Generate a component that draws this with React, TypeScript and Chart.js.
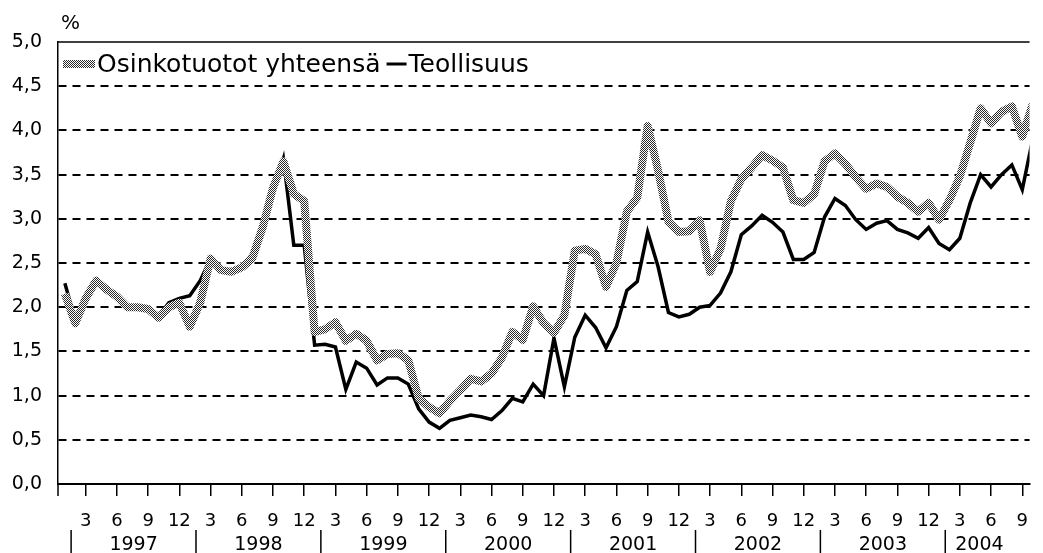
import React, { useEffect, useRef } from "react";
import { Chart, registerables } from "chart.js";

Chart.register(...registerables);

// Months Jan 1997 .. Oct 2004 (index 0 = Jan 1997)
const years = ["1997", "1998", "1999", "2000", "2001", "2002", "2003", "2004"];
const tickMonths = [3, 6, 9, 12];
const seriesNames = ["Osinkotuotot yhteensä", "Teollisuus"];
const unitLabel = "%";

const osinkotuototYhteensa = [
  2.15, 1.82, 2.1, 2.3, 2.2, 2.12, 2.0, 2.0, 1.98, 1.88, 2.0, 2.05,
  1.78, 2.05, 2.55, 2.42, 2.4, 2.45, 2.55, 2.9, 3.35, 3.65, 3.28, 3.2,
  1.72, 1.75, 1.83, 1.62, 1.7, 1.62, 1.4, 1.47, 1.48, 1.4, 0.97, 0.87,
  0.8, 0.94, 1.06, 1.19, 1.16, 1.25, 1.43, 1.72, 1.63, 2.01, 1.82, 1.71,
  1.91, 2.64, 2.66, 2.6, 2.23, 2.5, 3.08, 3.24, 4.05, 3.55, 2.97, 2.85,
  2.86, 2.98, 2.4, 2.66, 3.2, 3.45, 3.58, 3.72, 3.66, 3.58, 3.21, 3.18,
  3.28, 3.65, 3.74, 3.62, 3.47, 3.34, 3.4, 3.36, 3.25, 3.18, 3.08, 3.18,
  2.99, 3.21, 3.48, 3.86, 4.25, 4.08, 4.21, 4.27, 3.93, 4.3,
];

const teollisuus = [
  2.27, 1.85, 2.08, 2.28, 2.18, 2.1, 2.0, 1.98, 1.98, 1.9, 2.05, 2.1,
  2.13, 2.3, 2.55, 2.42, 2.4, 2.45, 2.6, 2.9, 3.3, 3.68, 2.7, 2.7,
  1.57, 1.58, 1.55, 1.07, 1.38, 1.31, 1.12, 1.2, 1.2, 1.13, 0.85, 0.7,
  0.63, 0.72, 0.75, 0.78, 0.76, 0.73, 0.83, 0.97, 0.93, 1.13, 1.0, 1.65,
  1.1, 1.66, 1.91, 1.77, 1.54, 1.78, 2.19, 2.29, 2.85, 2.46, 1.94, 1.89,
  1.92, 2.0, 2.02, 2.16, 2.4, 2.82, 2.92, 3.04, 2.96, 2.85, 2.54, 2.54,
  2.62, 3.02, 3.23, 3.15, 2.99, 2.88, 2.95, 2.98, 2.88, 2.84, 2.78, 2.9,
  2.72, 2.65, 2.78, 3.18, 3.5, 3.36, 3.5, 3.61, 3.33, 3.9,
];

const FONT = "'DejaVu Sans', sans-serif";
const X_MIN = -0.66;
const X_MAX = 92.7;

export default function App() {
  const ref = useRef<HTMLCanvasElement>(null);

  useEffect(() => {
    const canvas = ref.current;
    if (!canvas) return;
    const ctx0 = canvas.getContext("2d")!;

    // stipple pattern for the grey series
    const pc = document.createElement("canvas");
    pc.width = 2;
    pc.height = 2;
    const p = pc.getContext("2d")!;
    p.fillStyle = "#ffffff";
    p.fillRect(0, 0, 2, 2);
    p.fillStyle = "#2a2a2a";
    p.fillRect(0, 0, 1, 1);
    p.fillRect(1, 1, 1, 1);
    const pattern = ctx0.createPattern(pc, "repeat")!;

    const tickValues: number[] = [];
    years.forEach((_, k) => {
      tickMonths.forEach((m) => {
        const v = k * 12 + m - 1;
        if (v <= X_MAX) tickValues.push(v);
      });
    });

    const decor = {
      id: "decor",
      afterDraw(chart: any) {
        const { ctx, chartArea: a, scales } = chart;
        const x = scales.x;
        ctx.save();
        ctx.strokeStyle = "#000";
        ctx.fillStyle = "#000";
        // top frame line
        ctx.lineWidth = 1.5;
        ctx.beginPath();
        ctx.moveTo(a.left, a.top);
        ctx.lineTo(a.right, a.top);
        ctx.stroke();
        // left axis extension below x axis
        ctx.beginPath();
        ctx.moveTo(a.left, a.bottom);
        ctx.lineTo(a.left, a.bottom + 12);
        ctx.stroke();
        // unit
        ctx.font = `20px ${FONT}`;
        ctx.textAlign = "left";
        ctx.textBaseline = "alphabetic";
        ctx.fillText(unitLabel, 61, 29);
        // years + separators
        ctx.font = `19px ${FONT}`;
        ctx.textAlign = "center";
        ctx.textBaseline = "middle";
        years.forEach((yr, k) => {
          const sx = x.getPixelForValue(k * 12 + 0.6);
          const nx = Math.min(x.getPixelForValue((k + 1) * 12 + 0.6), a.right - 16);
          ctx.lineWidth = 1.5;
          ctx.beginPath();
          ctx.moveTo(sx, 530);
          ctx.lineTo(sx, 553);
          ctx.stroke();
          ctx.fillText(yr, (sx + nx) / 2, 545);
        });
        // legend
        const ly = 64;
        ctx.lineCap = "butt";
        ctx.strokeStyle = pattern;
        ctx.lineWidth = 8;
        ctx.beginPath();
        ctx.moveTo(63, ly);
        ctx.lineTo(95, ly);
        ctx.stroke();
        ctx.font = `25px ${FONT}`;
        ctx.textAlign = "left";
        ctx.textBaseline = "middle";
        ctx.fillStyle = "#000";
        ctx.fillText(seriesNames[0], 97, ly + 1);
        const w = ctx.measureText(seriesNames[0]).width;
        const x0 = 97 + w + 6;
        ctx.strokeStyle = "#000";
        ctx.lineWidth = 3;
        ctx.beginPath();
        ctx.moveTo(x0, ly);
        ctx.lineTo(x0 + 20, ly);
        ctx.stroke();
        ctx.fillText(seriesNames[1], x0 + 22, ly + 1);
        ctx.restore();
      },
    };

    const chart = new Chart(canvas, {
      type: "line",
      data: {
        datasets: [
          {
            label: seriesNames[0],
            data: osinkotuototYhteensa.map((v, i) => ({ x: i, y: v })),
            borderColor: pattern as any,
            backgroundColor: pattern as any,
            borderWidth: 8,
            borderJoinStyle: "round",
            pointRadius: 0,
            tension: 0,
            order: 0,
          },
          {
            label: seriesNames[1],
            data: teollisuus.map((v, i) => ({ x: i, y: v })),
            borderColor: "#000",
            backgroundColor: "#000",
            borderWidth: 3.5,
            pointRadius: 0,
            tension: 0,
            order: 1,
          },
        ],
      },
      options: {
        animation: false,
        responsive: false,
        layout: { padding: { top: 42, left: 0, right: 0, bottom: 0 } },
        plugins: { legend: { display: false }, tooltip: { enabled: false } },
        scales: {
          x: {
            type: "linear",
            min: X_MIN,
            max: X_MAX,
            afterBuildTicks: (s: any) => {
              s.ticks = tickValues.map((v) => ({ value: v }));
            },
            afterFit: (s: any) => {
              s.height = 69;
            },
            ticks: {
              autoSkip: false,
              maxRotation: 0,
              padding: 15,
              color: "#000",
              font: { family: FONT, size: 18 },
              callback: (v: any) => String((Math.round(Number(v)) % 12) + 1),
            },
            grid: {
              drawOnChartArea: false,
              drawTicks: true,
              tickLength: 12,
              color: "#000",
              lineWidth: 1.5,
            },
            border: { display: true, color: "#000", width: 2 },
          },
          y: {
            min: 0,
            max: 5,
            afterFit: (s: any) => {
              s.width = 58;
            },
            ticks: {
              stepSize: 0.5,
              padding: 16,
              color: "#000",
              font: { family: FONT, size: 19 },
              callback: (v: any) => Number(v).toFixed(1).replace(".", ","),
            },
            grid: {
              drawTicks: false,
              lineWidth: 2,
              color: (c: any) =>
                c.tick && (c.tick.value === 0 || c.tick.value === 5) ? "rgba(0,0,0,0)" : "#000",
            },
            border: { display: true, color: "#000", width: 1.5, dash: [8, 6] },
          },
        },
      },
      plugins: [decor],
    });

    return () => chart.destroy();
  }, []);

  return (
    <div style={{ position: "absolute", left: 0, top: 0, width: 1043, height: 553, background: "#fff" }}>
      <canvas ref={ref} width={1043} height={553} style={{ display: "block" }} />
    </div>
  );
}
